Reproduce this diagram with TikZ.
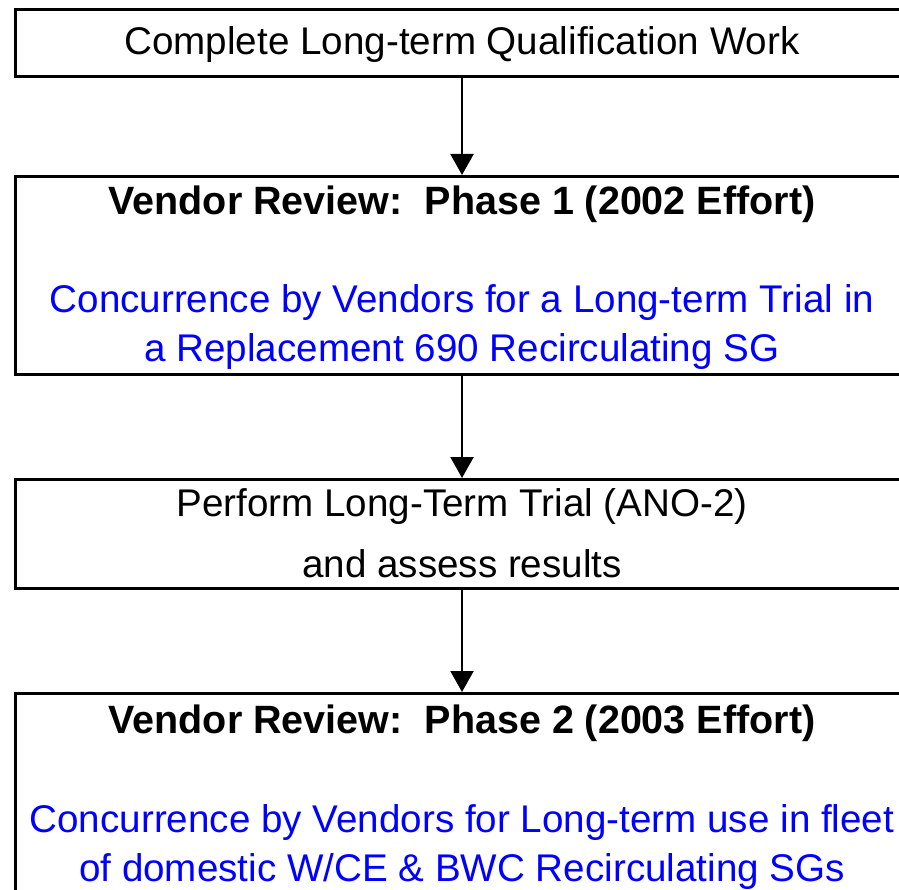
\documentclass[tikz,border=0pt]{standalone}
\usepackage{fontspec}
\setmainfont{Liberation Sans}
\usetikzlibrary{arrows.meta}
\definecolor{txtblue}{RGB}{0,0,255}
\tikzset{
  box/.style={draw=black, line width=2.8pt, inner sep=0pt, anchor=north west},
  txt/.style={anchor=base, inner sep=0pt, font=\fontsize{38.6}{40}\selectfont},
  btxt/.style={txt, font=\fontsize{39.5}{41}\selectfont\bfseries},
  bluetxt/.style={txt, text=txtblue},
  conn/.style={line width=2.2pt, -{Triangle[width=23pt,length=21pt]}}
}
\begin{document}
\begin{tikzpicture}[x=1pt,y=-1pt]
\useasboundingbox (0,0) rectangle (899,890);
\clip (0,0) rectangle (899,890);
\fill[white] (0,0) rectangle (899,890);
% boxes
\node[box, minimum width=900pt, minimum height=67pt] (b1) at (14,8) {};
\node[box, minimum width=900pt, minimum height=198pt] (b2) at (14,175) {};
\node[box, minimum width=900pt, minimum height=109pt] (b3) at (14,478) {};
\node[box, minimum width=900pt, minimum height=230pt] (b4) at (14,692) {};
% texts
\node[txt] (t1) at (462,55) {Complete Long-term Qualification Work};
\node[btxt] (t2a) at (462,215) {Vendor Review:\ \ Phase 1 (2002 Effort)};
\node[bluetxt] (t2b) at (462,313) {Concurrence by Vendors for a Long-term Trial in};
\node[bluetxt] (t2c) at (462,362) {a Replacement 690 Recirculating SG};
\node[txt] (t3a) at (462,516) {Perform Long-Term Trial (ANO-2)};
\node[txt] (t3b) at (462,577) {and assess results};
\node[btxt] (t4a) at (462,733) {Vendor Review:\ \ Phase 2 (2003 Effort)};
\node[bluetxt] (t4b) at (462,832) {Concurrence by Vendors for Long-term use in fleet};
\node[bluetxt] (t4c) at (462,881) {of domestic W/CE \& BWC Recirculating SGs};
% connectors
\coordinate (a1s) at (462,75);
\coordinate (a1e) at (462,175);
\coordinate (a2s) at (462,373);
\coordinate (a2e) at (462,478);
\coordinate (a3s) at (462,587);
\coordinate (a3e) at (462,692);
\draw[conn] (a1s) -- (a1e);
\draw[conn] (a2s) -- (a2e);
\draw[conn] (a3s) -- (a3e);
\end{tikzpicture}
\end{document}
